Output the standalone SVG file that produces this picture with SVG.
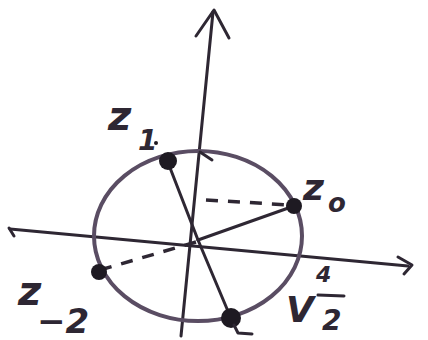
<svg xmlns="http://www.w3.org/2000/svg" width="428" height="340" viewBox="0 0 428 340">
<style>
.ln{stroke:#2e2733;stroke-width:3;fill:none;stroke-linecap:round;stroke-linejoin:round}
.cir{stroke:#5a4d63;stroke-width:4;fill:none}
.dash{stroke:#2e2733;stroke-width:3.5;fill:none;stroke-dasharray:12 10}
.pt{fill:#1e1a22}
.lbl{font-family:"DejaVu Sans",sans-serif;fill:#2e2733;font-style:italic;font-weight:bold}
</style>
<rect width="428" height="340" fill="#ffffff"/>
<g id="axes" class="connectors">
<path class="ln" d="M10 229 L408 266"/>
<path class="ln" stroke-width="5" d="M9 228 L14 236 M398 257 L412 265 L404 274"/>
<path class="ln" d="M213 12 L181 336"/>
<path class="ln" d="M196 36 L214 10 L229 38"/>
</g>
<g id="circle"><ellipse class="cir" cx="198" cy="236" rx="104" ry="85"/></g>
<g id="connectors">
<path class="ln" d="M198 240 L167 160"/>
<path class="ln" d="M198 240 L294 206"/>
<path class="ln" d="M198 240 L230 316"/>
<path class="dash" d="M196 242 L100 270"/>
<path class="dash" d="M206 200 L290 205"/>
<path class="ln" d="M200 152 L212 160"/>
</g>
<g id="z1"><circle class="pt" cx="168" cy="161" r="9"/><text class="lbl" x="108" y="130" font-size="40">z</text><text class="lbl" x="138" y="150" font-size="28">1</text><circle class="pt" cx="156" cy="143" r="2"/></g>
<g id="z0"><circle class="pt" cx="294" cy="206" r="8"/><text class="lbl" x="303" y="200" font-size="36">z</text><text class="lbl" x="328" y="212" font-size="26">o</text></g>
<g id="zm2"><circle class="pt" cx="99" cy="272" r="8"/><text class="lbl" x="18" y="305" font-size="40">z</text><text class="lbl" x="37" y="333" font-size="34">−2</text></g>
<g id="zm1"><circle class="pt" cx="231" cy="318" r="10"/><path class="ln" d="M234 325 L238 333 L252 334"/></g>
<g id="half"><text class="lbl" x="286" y="322" font-size="36">V</text><text class="lbl" x="316" y="282" font-size="22">4</text><path class="ln" d="M318 295 L344 296"/><text class="lbl" x="322" y="330" font-size="28">2</text></g>
</svg>
